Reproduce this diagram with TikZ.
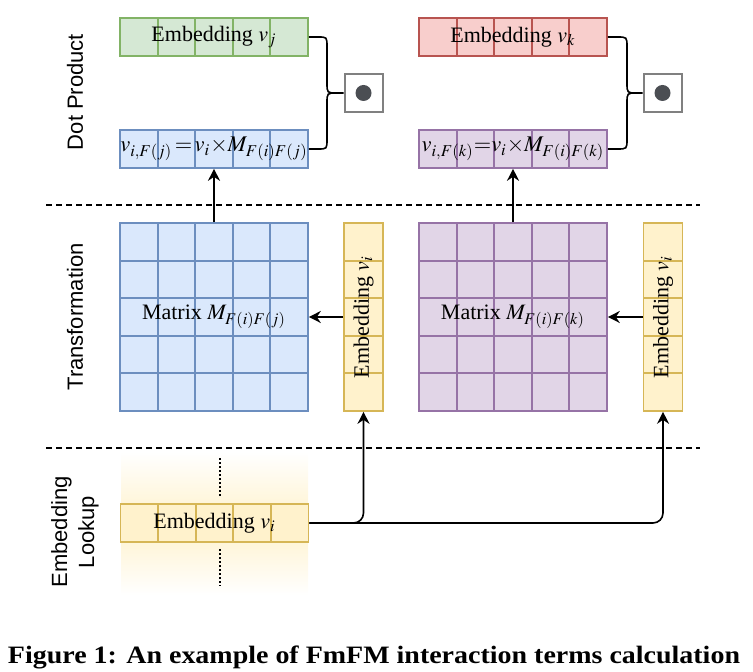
\documentclass[tikz,border=0pt]{standalone}
\usepackage{mathptmx}
\usepackage{fontspec}
\setmainfont{Liberation Serif}
\setsansfont{Liberation Sans}
\usetikzlibrary{arrows.meta}
\usetikzlibrary{calc}
\definecolor{greenfill}{HTML}{D5E8D4}
\definecolor{greenline}{HTML}{82B366}
\definecolor{redfill}{HTML}{F8CECC}
\definecolor{redline}{HTML}{B85450}
\definecolor{bluefill}{HTML}{DAE8FC}
\definecolor{blueline}{HTML}{6C8EBF}
\definecolor{purplefill}{HTML}{E1D5E7}
\definecolor{purpleline}{HTML}{9673A6}
\definecolor{yellowfill}{HTML}{FFF2CC}
\definecolor{yellowline}{HTML}{D6B656}
\definecolor{dotgray}{HTML}{808080}
\definecolor{dotdark}{HTML}{4B4E53}
\tikzstyle{cell} = [draw, line width=0.8pt, inner sep=0pt, font=\fontsize{11}{13}\selectfont]
\tikzstyle{row} = [cell, minimum width=94pt, minimum height=19pt]
\tikzstyle{mat} = [cell, minimum width=94pt, minimum height=94pt, font=\fontsize{11}{13}\selectfont]
\tikzstyle{col} = [cell, minimum width=19.5pt, minimum height=94pt]
\tikzstyle{dotbox} = [draw=dotgray, fill=white, line width=1pt, minimum size=19pt, inner sep=0pt]
\tikzstyle{arr} = [-{Stealth[length=6pt, width=6pt]}, line width=0.8pt]
\tikzstyle{sep} = [line width=0.8pt, dash pattern=on 3pt off 2pt]
\tikzstyle{dots} = [line width=1pt, dash pattern=on 1pt off 1pt]
\tikzstyle{side} = [rotate=90, align=center, font=\sffamily\fontsize{11}{13.5}\selectfont]
\tikzset{
  rowcells/.style={path picture={
    \foreach \k in {1,...,4}
      \draw[line width=1pt, #1]
        ($(path picture bounding box.north west)!\k/5!(path picture bounding box.north east)$) --
        ($(path picture bounding box.south west)!\k/5!(path picture bounding box.south east)$);
  }},
  colcells/.style={path picture={
    \foreach \k in {1,...,4}
      \draw[line width=1pt, #1]
        ($(path picture bounding box.north west)!\k/5!(path picture bounding box.south west)$) --
        ($(path picture bounding box.north east)!\k/5!(path picture bounding box.south east)$);
  }},
  matcells/.style={path picture={
    \foreach \k in {1,...,4} {
      \draw[line width=1pt, #1]
        ($(path picture bounding box.north west)!\k/5!(path picture bounding box.north east)$) --
        ($(path picture bounding box.south west)!\k/5!(path picture bounding box.south east)$);
      \draw[line width=1pt, #1]
        ($(path picture bounding box.north west)!\k/5!(path picture bounding box.south west)$) --
        ($(path picture bounding box.north east)!\k/5!(path picture bounding box.south east)$);
    }
  }}
}

\begin{document}
\begin{tikzpicture}[x=0.5pt, y=-0.5pt]
\useasboundingbox (0,0) rectangle (753,672);

% stage labels
\node[side] (lbldot) at (75,92) {Dot Product};
\node[side] (lbltrans) at (75,317) {Transformation};
\node[side] (lbllook) at (75,532) {Embedding\\Lookup};

\draw[sep] (46,205) -- (700,205);
\draw[sep] (46,448) -- (700,448);

% field j
\node[row, fill=greenfill, draw=greenline, rowcells=greenline] (embj) at (214,37) {Embedding $v_j$};
\node[row, fill=bluefill, draw=blueline, rowcells=blueline, font=\fontsize{11.2}{14}\selectfont] (vij) at (214,149) {$v_{i{,}F(j)}\,{=}\,v_i{\times}M_{F(i)F(j)}$};
\node[dotbox] (dotj) at (363.5,93) {};
\fill[dotdark] (dotj.center) circle (8);
\draw[line width=0.8pt] (embj.east) -- (318,37) .. controls (327,37) .. (327,47) -- (327,83) .. controls (327,93) .. (337,93) -- (dotj.west);
\draw[line width=0.8pt] (vij.east) -- (318,149) .. controls (327,149) .. (327,139) -- (327,103) .. controls (327,93) .. (337,93);
\node[mat, fill=bluefill, draw=blueline, matcells=blueline] (matj) at (214,317) {Matrix $M_{F(i)F(j)}$};
\node[col, fill=yellowfill, draw=yellowline, colcells=yellowline] (colj) at (363.5,317) {\rotatebox{90}{Embedding $v_i$}};
\draw[arr] (colj.west) -- (matj.east);
\draw[arr] (matj.north) -- (vij.south);

% field k
\node[row, fill=redfill, draw=redline, rowcells=redline] (embk) at (513,37) {Embedding $v_k$};
\node[row, fill=purplefill, draw=purpleline, rowcells=purpleline, font=\fontsize{11.2}{14}\selectfont] (vik) at (513,149) {$v_{i{,}F(k)}{=}v_i{\times}M_{F(i)F(k)}$};
\node[dotbox] (dotk) at (662.5,93) {};
\fill[dotdark] (dotk.center) circle (8);
\draw[line width=0.8pt] (embk.east) -- (617,37) .. controls (627,37) .. (627,47) -- (627,83) .. controls (627,93) .. (637,93) -- (dotk.west);
\draw[line width=0.8pt] (vik.east) -- (617,149) .. controls (627,149) .. (627,139) -- (627,103) .. controls (627,93) .. (637,93);
\node[mat, fill=purplefill, draw=purpleline, matcells=purpleline] (matk) at (513,317) {Matrix $M_{F(i)F(k)}$};
\node[col, fill=yellowfill, draw=yellowline, colcells=yellowline] (colk) at (663,317) {\rotatebox{90}{Embedding $v_i$}};
\draw[arr] (colk.west) -- (matk.east);
\draw[arr] (matk.north) -- (vik.south);

% lookup
\shade[top color=white, bottom color=white, middle color=yellowfill] (121,452) rectangle (308,595);
\node[row, fill=yellowfill, draw=yellowline, rowcells=yellowline] (look) at (214.5,523) {Embedding $v_i$};
\draw[dots] (220,458) -- (220,497);
\draw[dots] (220,549) -- (220,586);
\draw[arr, rounded corners=5pt] (look.east) -| (colj.south);
\draw[arr, rounded corners=5pt] (look.east) -| (colk.south);

\node[anchor=base, font=\bfseries\fontsize{12.5}{15}\selectfont] (caption) at (374,663) {\resizebox{366pt}{\height}{Figure 1: An example of FmFM interaction terms calculation}};
\end{tikzpicture}
\end{document}
